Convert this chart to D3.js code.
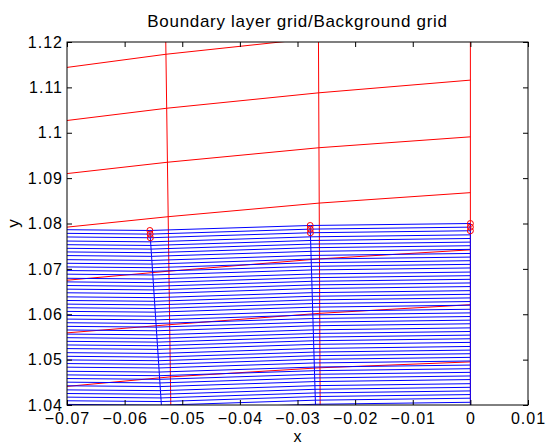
<!DOCTYPE html>
<html lang="en">
<head>
    <meta charset="UTF-8">
    <title>Boundary layer grid</title>
    <script src="https://d3js.org/d3.v7.min.js"></script>
    <style>
        body { margin: 0; background: #fff; }
        text {
            font-family: 'Liberation Sans', Arial, Helvetica, sans-serif;
            fill: #000;
        }
        .tick text { font-size: 16px; letter-spacing: 1px; }
    </style>
</head>
<body>
<script>

    const width  = 547;
    const height = 444;
    const plot = {left: 67, right: 528, top: 42, bottom: 405};

    const xTicks      = [-0.07, -0.06, -0.05, -0.04, -0.03, -0.02, -0.01, 0, 0.01];
    const xTickLabels = ['\u22120.07', '\u22120.06', '\u22120.05', '\u22120.04', '\u22120.03', '\u22120.02', '\u22120.01', '0', '0.01'];
    const yTicks      = [1.04, 1.05, 1.06, 1.07, 1.08, 1.09, 1.1, 1.11, 1.12];
    const yTickLabels = ['1.04', '1.05', '1.06', '1.07', '1.08', '1.09', '1.1', '1.11', '1.12'];

    // background grid (red): the three radial lines, x at y = 1.12 and at y = 1.04
    const bgColXTop    = [-0.05286, -0.02636, 0];
    const bgColXBottom = [-0.05199, -0.02607, 0];
    // background grid rows: y at the left edge and on each radial line
    const bgRowsAtLeft = [1.1144, 1.1027, 1.0910, 1.0792, 1.0675, 1.0559, 1.0441];
    const bgRowsAtCol1 = [1.1173, 1.1054, 1.0935, 1.0815, 1.0695, 1.0577, 1.0462];
    const bgRowsAtCol2 = [1.1209, 1.1088, 1.0967, 1.0845, 1.0722, 1.0602, 1.0482];
    const bgRowsAtCol3 = [1.1239, 1.1116, 1.0991, 1.0868, 1.0742, 1.0621, 1.0495];

    // boundary layer grid (blue): layer heights measured on the x = 0 line
    const blLayerY = [
        1.0800, 1.0792, 1.0784, 1.0775, 1.0767, 1.0759, 1.0751, 1.0743, 1.0734, 1.0726,
        1.0718, 1.0710, 1.0702, 1.0693, 1.0685, 1.0677, 1.0669, 1.0661, 1.0652, 1.0644,
        1.0636, 1.0628, 1.0620, 1.0611, 1.0603, 1.0595, 1.0587, 1.0579, 1.0570, 1.0562,
        1.0554, 1.0546, 1.0538, 1.0529, 1.0521, 1.0513, 1.0505, 1.0497, 1.0488, 1.0480,
        1.0472, 1.0464, 1.0456, 1.0447, 1.0439, 1.0431, 1.0423, 1.0415, 1.0406, 1.0398,
        1.0390, 1.0382
    ];
    // drop of each layer at the left edge and on the three radial lines
    const blColShift   = [-0.00137, -0.00154, -0.00044, 0];
    // radial lines of the boundary layer: x at their top node and at y = 1.04
    const blColXTop    = [-0.05562, -0.02780, 0];
    const blColXBottom = [-0.05362, -0.02688, 0];
    const markedNodes  = [0, 1, 2];

    const x = d3.scaleLinear().domain([-0.07, 0.01]).range([plot.left, plot.right]);
    const y = d3.scaleLinear().domain([1.04, 1.12]).range([plot.bottom, plot.top]);

    const svg = d3.select("body")
            .append("svg")
            .attr("width", width)
            .attr("height", height);

    svg.append("rect").attr("width", width).attr("height", height).attr("fill", "#fff");

    svg.append("clipPath").attr("id", "clip")
            .append("rect")
            .attr("x", plot.left).attr("y", plot.top)
            .attr("width", plot.right - plot.left)
            .attr("height", plot.bottom - plot.top);

    const line = d3.line().x(d => x(d[0])).y(d => y(d[1]));

    // x of a straight line through (x0, y0) and (x1, y1) at height yy
    function xAt(x0, y0, x1, y1, yy) {
        return x0 + (x1 - x0) * (yy - y0) / (y1 - y0);
    }

    const g = svg.append("g").attr("clip-path", "url(#clip)");

    // background grid
    const bgCols = bgColXTop.map((xt, c) => [[xt, 1.12], [bgColXBottom[c], 1.04]]);
    const bgRows = bgRowsAtLeft.map((yl, r) => {
        const ys = [bgRowsAtCol1[r], bgRowsAtCol2[r], bgRowsAtCol3[r]];
        return [[-0.07, yl]].concat(ys.map((yy, c) =>
            [xAt(bgColXTop[c], 1.12, bgColXBottom[c], 1.04, yy), yy]));
    });

    g.selectAll(".bg")
            .data(bgCols.concat(bgRows))
            .enter()
            .append("path").attr("class", "bg")
            .attr("d", line)
            .attr("fill", "none")
            .attr("stroke", "#ff0000")
            .attr("stroke-width", 1);

    // boundary layer nodes: [left edge, col1, col2, col3] for each layer
    const blNodes = blLayerY.map(y0 => {
        const pts = [[-0.07, y0 + blColShift[0]]];
        blColXTop.forEach((xt, c) => {
            const yy = y0 + blColShift[c + 1];
            const yTop = blLayerY[0] + blColShift[c + 1];
            pts.push([xAt(xt, yTop, blColXBottom[c], 1.04, yy), yy]);
        });
        return pts;
    });
    const blRadial = blColXTop.map((xt, c) => blNodes.map(p => p[c + 1]));

    g.selectAll(".bl")
            .data(blNodes.concat(blRadial))
            .enter()
            .append("path").attr("class", "bl")
            .attr("d", line)
            .attr("fill", "none")
            .attr("stroke", "#0000ff")
            .attr("stroke-width", 1);

    // marked outer nodes
    const marks = [];
    blColXTop.forEach((xt, c) => markedNodes.forEach(j => marks.push(blNodes[j][c + 1])));
    svg.selectAll(".mark")
            .data(marks)
            .enter()
            .append("circle").attr("class", "mark")
            .attr("cx", d => x(d[0]))
            .attr("cy", d => y(d[1]))
            .attr("r", 3)
            .attr("fill", "none")
            .attr("stroke", "#ff0000")
            .attr("stroke-width", 1);

    // axes, ticks inside on all four sides
    const xLab = d3.scaleOrdinal().domain(xTicks).range(xTickLabels);
    const yLab = d3.scaleOrdinal().domain(yTicks).range(yTickLabels);

    const axes = [
        [d3.axisBottom(x).tickValues(xTicks).tickFormat(xLab).tickPadding(8), plot.bottom, 0],
        [d3.axisTop(x).tickValues(xTicks).tickFormat(""), plot.top, 0],
        [d3.axisLeft(y).tickValues(yTicks).tickFormat(yLab).tickPadding(4), 0, plot.left],
        [d3.axisRight(y).tickValues(yTicks).tickFormat(""), 0, plot.right]
    ];
    axes.forEach(([axis, ty, tx]) => {
        const a = svg.append("g")
                .attr("transform", "translate(" + [tx, ty] + ")")
                .call(axis.tickSize(-5).tickSizeOuter(0));
        a.select(".domain").remove();
        a.selectAll(".tick line").attr("stroke", "#000");
        a.selectAll(".tick text").attr("font-family", null).attr("font-size", null);
    });

    svg.append("rect")
            .attr("x", plot.left).attr("y", plot.top)
            .attr("width", plot.right - plot.left)
            .attr("height", plot.bottom - plot.top)
            .attr("fill", "none")
            .attr("stroke", "#000")
            .attr("stroke-width", 1);

    svg.append("text")
            .text("Boundary layer grid/Background grid")
            .attr("x", (plot.left + plot.right) / 2)
            .attr("y", 27)
            .attr("text-anchor", "middle")
            .style("font-size", "17px")
            .style("letter-spacing", "0.7px");

    svg.append("text")
            .text("x")
            .attr("x", (plot.left + plot.right) / 2)
            .attr("y", 442)
            .attr("text-anchor", "middle")
            .style("font-size", "16px");

    svg.append("text")
            .text("y")
            .attr("transform", "translate(19," + (plot.top + plot.bottom) / 2 + ") rotate(-90)")
            .attr("text-anchor", "middle")
            .style("font-size", "17px");

</script>
</body>
</html>
